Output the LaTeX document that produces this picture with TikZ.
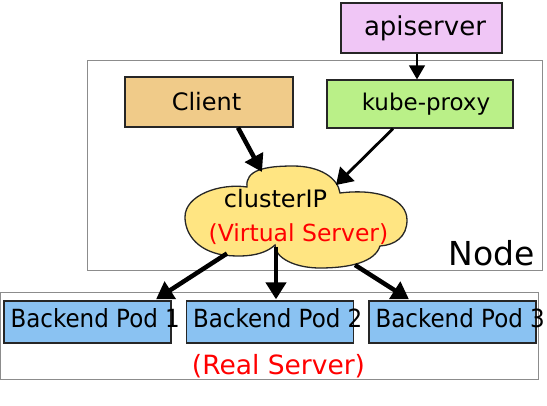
\documentclass[tikz,border=0pt]{standalone}
\usepackage{fontspec}
\setmainfont{DejaVu Sans}
\newfontfamily\podfont[FakeStretch=0.92]{DejaVu Sans}
\usetikzlibrary{arrows.meta}
\definecolor{apicol}{HTML}{F0C6F6}
\definecolor{clientcol}{HTML}{F0CB89}
\definecolor{proxycol}{HTML}{BAF088}
\definecolor{cloudcol}{HTML}{FFE582}
\definecolor{podcol}{HTML}{8AC2F2}
\definecolor{framecol}{HTML}{8C8C8C}

\begin{document}
\begin{tikzpicture}[x=1pt, y=-1pt]
                  \tikzstyle{frame}=[draw=framecol, line width=1pt, inner sep=0pt]
                  \tikzstyle{box}=[draw=black!85, line width=1.3pt, inner sep=0pt]
                  \tikzstyle{podtext}=[anchor=base west, inner sep=0pt, font=\podfont\fontsize{25}{30}\selectfont]
                  \tikzstyle{redtext}=[text=red, inner sep=0pt, anchor=base]
                  \tikzstyle{bigarrow}=[line width=4.5pt, -{Triangle[length=17pt, width=20pt]}]
                  \tikzstyle{midarrow}=[line width=2.8pt, -{Triangle[length=16pt, width=20pt]}]
                  \tikzstyle{smallarrow}=[line width=1.3pt, -{Triangle[length=14pt, width=16pt]}]

                  \useasboundingbox (0,0) rectangle (547,405);

                  \node[frame, minimum width=455pt, minimum height=210pt] (nodebox) at (314.5,165) {};
                  \node[frame, minimum width=538pt, minimum height=87pt] (realbox) at (269,335.5) {};

                  \node[box, fill=apicol, minimum width=161pt, minimum height=50pt, font=\fontsize{26}{30}\selectfont] (apiserver) at (421.5,28) {\hspace*{7pt}apiserver};
                  \node[box, fill=clientcol, minimum width=168pt, minimum height=50pt, font=\fontsize{24}{28}\selectfont] (client) at (209,102) {Client\hspace*{5pt}};
                  \node[box, fill=proxycol, minimum width=186pt, minimum height=48pt, font=\fontsize{23}{28}\selectfont] (kubeproxy) at (420,104) {\hspace*{12pt}kube-proxy};

                  \coordinate (clusterip) at (296,216.5);
                  \filldraw[box, fill=cloudcol] (247,187) .. controls (245,170) and (265,166) .. (293,166)
                    .. controls (320,166) and (338,178) .. (340,193)
                    .. controls (380,188) and (407,200) .. (407,220)
                    .. controls (407,237) and (395,245) .. (380,246)
                    .. controls (375,262) and (350,268) .. (320,268)
                    .. controls (295,268) and (275,258) .. (275,245)
                    .. controls (262,257) and (240,257) .. (223,255)
                    .. controls (195,250) and (185,232) .. (185,217)
                    .. controls (185,195) and (220,183) .. cycle;
                  \node[anchor=base, inner sep=0pt, font=\fontsize{24}{28}\selectfont] (iptext) at (275.5,207) {clusterIP};
                  \node[redtext, font=\fontsize{23.5}{28}\selectfont] (virtualtext) at (298.5,241) {(Virtual Server)};
                  \node[anchor=base, inner sep=0pt, font=\fontsize{33}{38}\selectfont] (nodetext) at (492,265) {Node};

                  \foreach \i/\x in {1/87.5, 2/270, 3/452.5}{
                    \node[box, fill=podcol, minimum width=167pt, minimum height=42pt] (pod\i) at (\x,322) {};
                    \node[podtext] (podtext\i) at ([xshift=7pt, yshift=-5pt]pod\i.west) {Backend Pod \i};
                  }
                  \node[redtext, font=\fontsize{26.5}{30}\selectfont] (realtext) at (278.5,374) {(Real Server)};

                  \draw[smallarrow] ([xshift=-4.5pt]apiserver.south) -- ([xshift=-3pt]kubeproxy.north);
                  \draw[bigarrow] ([xshift=29pt]client.south) -- ([shift={(-34,-44.5)}]clusterip);
                  \draw[midarrow] ([xshift=-27pt]kubeproxy.south) -- ([shift={(40,-31.5)}]clusterip);
                  \draw[bigarrow] ([shift={(-69,37)}]clusterip) -- ([xshift=68.5pt, yshift=1pt]pod1.north);
                  \draw[bigarrow] ([shift={(-20,30)}]clusterip) -- ([xshift=6pt, yshift=1pt]pod2.north);
                  \draw[bigarrow] ([shift={(59,48.5)}]clusterip) -- ([xshift=-43.5pt, yshift=1pt]pod3.north);
\end{tikzpicture}
\end{document}
